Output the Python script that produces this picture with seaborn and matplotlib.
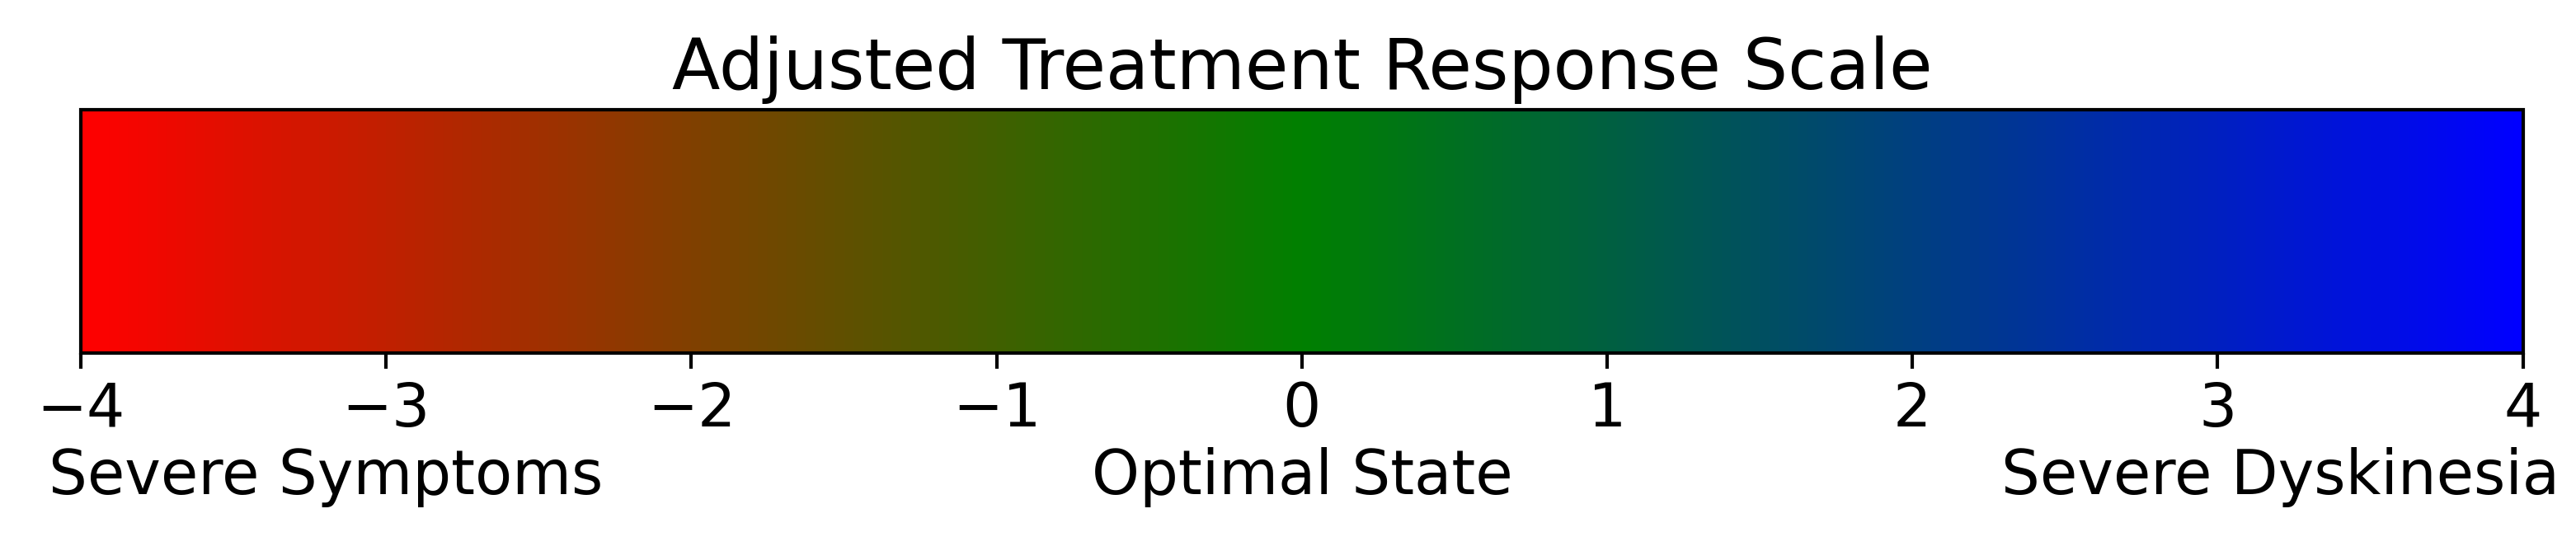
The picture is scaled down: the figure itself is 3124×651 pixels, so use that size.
import numpy as np
import matplotlib
matplotlib.use("Agg")
import matplotlib.pyplot as plt
import matplotlib.colors as mcolors
import seaborn as sns

# scale data
anchor_colors = ["red", "green", "blue"]
vmin, vmax = -4, 4
tick_values = [-4, -3, -2, -1, 0, 1, 2, 3, 4]
end_labels = ["Severe Symptoms", "Optimal State", "Severe Dyskinesia"]
end_positions = [-4.105, 0, 4.12]
title = "Adjusted Treatment Response Scale"

sns.set_style("ticks")
plt.rcParams["font.family"] = ["DejaVu Sans"]
plt.rcParams["text.color"] = "black"
plt.rcParams["xtick.color"] = "black"
plt.rcParams["xtick.labelcolor"] = "black"

cmap = sns.blend_palette(anchor_colors, as_cmap=True)
norm = mcolors.Normalize(vmin=vmin, vmax=vmax)

fig = plt.figure(figsize=(3124 / 300, 651 / 300), dpi=300)
cax = fig.add_axes([0.0314, 0.3425, 0.948, 0.453])

sm = plt.cm.ScalarMappable(cmap=cmap, norm=norm)
cbar = fig.colorbar(sm, cax=cax, orientation="horizontal")
cbar.set_ticks(tick_values)
cbar.ax.tick_params(labelsize=17.5, length=4.5, width=1, color="black",
                    labelcolor="black")
cbar.outline.set_linewidth(1)
cbar.outline.set_edgecolor("black")
cax.set_title(title, fontsize=20.5, color="black")

trans = cax.get_xaxis_transform()
aligns = ["left", "center", "right"]
for lab, xpos, ha in zip(end_labels, end_positions, aligns):
    cax.text(xpos, -0.51, lab, transform=trans, ha=ha, va="center",
             fontsize=17.7, color="black")

fig.savefig("out.png", dpi=300)
